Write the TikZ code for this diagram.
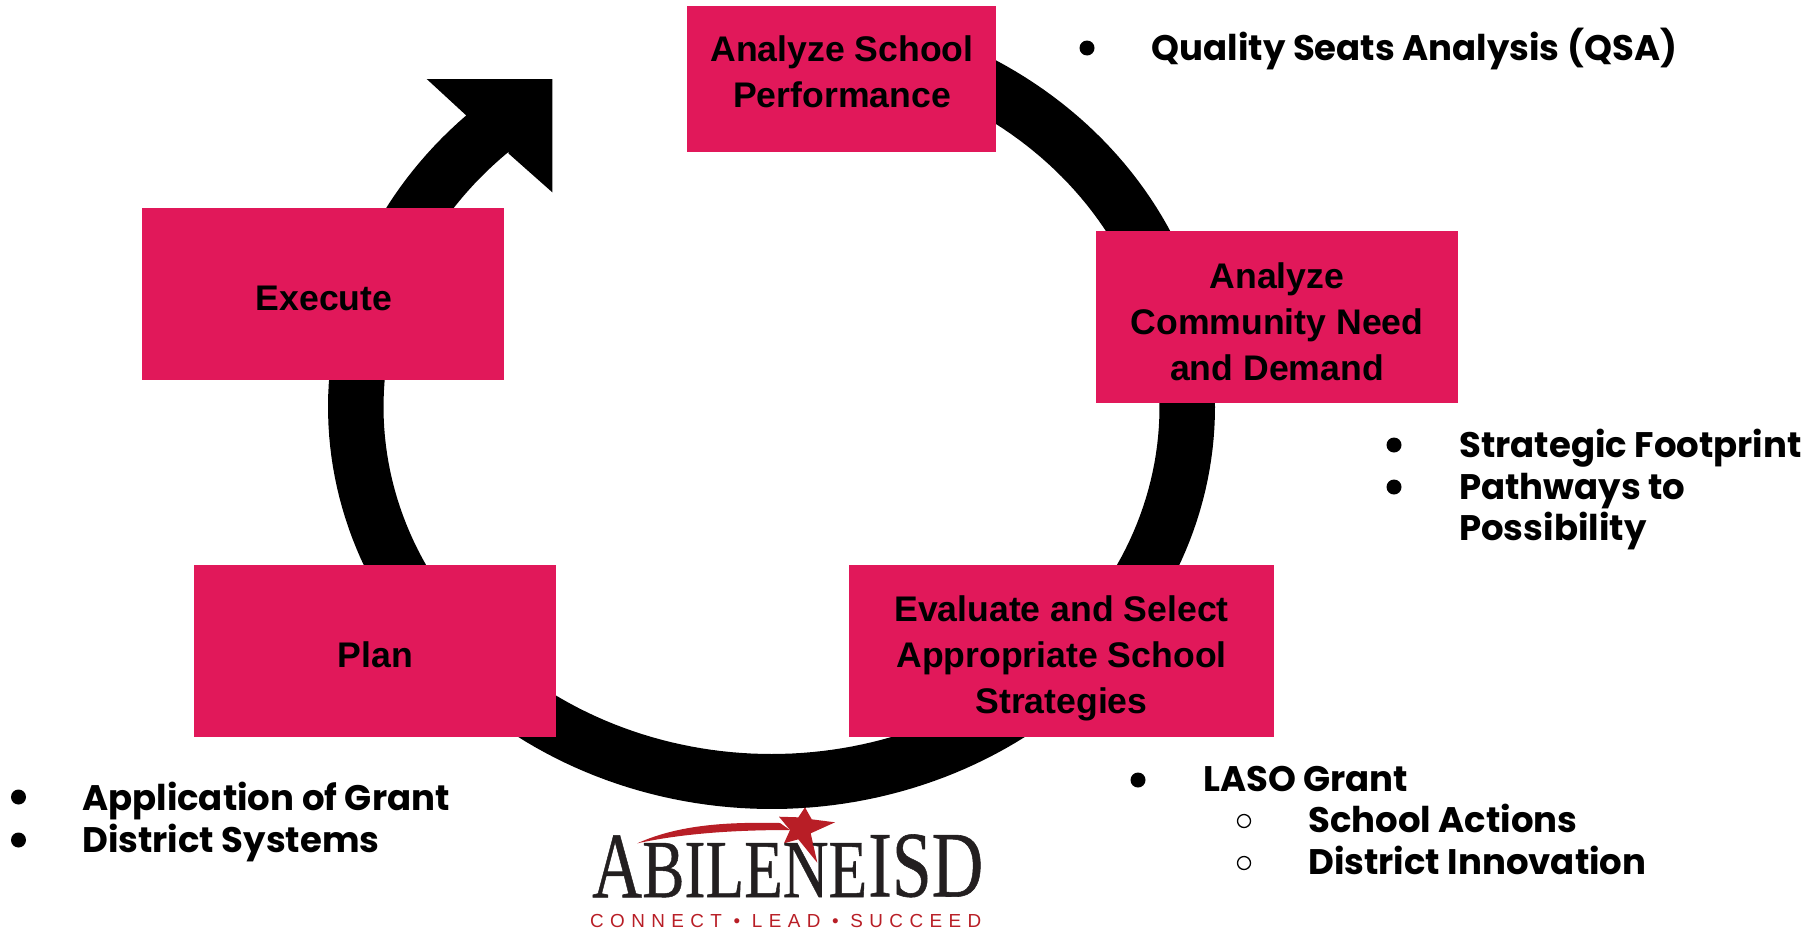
\documentclass[tikz,border=0pt]{standalone}
\usepackage{graphicx}
\usepackage{fontspec}
\setmainfont{Liberation Sans}
\newfontfamily\bulletfont{Poppins}
\newfontfamily\logofont[FakeBold=0.6]{Liberation Serif}
\newfontfamily\tagfont[LetterSpace=34]{Liberation Sans}
\definecolor{crimson}{HTML}{E1185A}
\definecolor{logored}{HTML}{B81E26}
\definecolor{logoink}{HTML}{231F20}
\tikzset{
  pinkbox/.style={fill=crimson,draw=none,inner sep=0pt,anchor=north west},
  boxtext/.style={align=center,font=\fontsize{35.6}{46}\selectfont\bfseries,text=black,inner sep=0pt},
  itemtext/.style={anchor=base west,font=\bulletfont\fontsize{35.5}{40}\selectfont\bfseries,text=black,inner sep=0pt},
  solidmark/.style={circle,fill=black,draw=none,minimum size=15pt,inner sep=0pt},
  hollowmark/.style={circle,draw=black,line width=1.3pt,fill=white,minimum size=13pt,inner sep=0pt},
  logoglyph/.style={anchor=south west,inner sep=0pt,text=logoink},
}
\begin{document}
\begin{tikzpicture}[x=1pt,y=-1pt]
\useasboundingbox (0,0) rectangle (1811,932);
% ring with arrow head
\fill[black]
  plot[domain=70:-226.5,samples=200] ({771.5+443.5*cos(\x)},{407-402*sin(\x)})
  -- (426.7,79) -- (552.3,79) -- (552.3,192.3) -- (508.3,153.3)
  -- plot[domain=-227.5:70,samples=200] ({771.5+388*cos(\x)},{407-347*sin(\x)})
  -- cycle;
% boxes
\node[pinkbox,minimum width=309pt,minimum height=146pt] (school) at (687,6) {};
\node[pinkbox,minimum width=362pt,minimum height=172pt] (execute) at (142,208) {};
\node[pinkbox,minimum width=362pt,minimum height=172pt] (community) at (1096,231) {};
\node[pinkbox,minimum width=425pt,minimum height=172pt] (evaluate) at (849,565) {};
\node[pinkbox,minimum width=362pt,minimum height=172pt] (plan) at (194,565) {};
\node[boxtext] (tschool) at (842,72) {Analyze School\\Performance};
\node[boxtext] (texecute) at (324,298) {Execute};
\node[boxtext] (tcommunity) at (1277,321.5) {Analyze\\Community Need\\and Demand};
\node[boxtext] (tevaluate) at (1061.5,658.5) {Evaluate and Select\\Appropriate School\\Strategies};
\node[boxtext] (tplan) at (375.5,655) {Plan};
% lists
\node[solidmark] (b1) at (1087,48) {};
\node[itemtext] (i1) at (1151.5,60) {Quality Seats Analysis (QSA)};
\node[solidmark] (b2) at (1394,445) {};
\node[itemtext] (i2) at (1459,457) {Strategic Footprint};
\node[solidmark] (b3) at (1394,487) {};
\node[itemtext] (i3) at (1459,499) {Pathways to};
\node[itemtext] (i4) at (1459,540) {Possibility};
\node[solidmark] (b4) at (1138,780) {};
\node[itemtext] (i5) at (1203,791) {LASO Grant};
\node[hollowmark] (c1) at (1244,821) {};
\node[itemtext] (i6) at (1308,832.5) {School Actions};
\node[hollowmark] (c2) at (1244,863) {};
\node[itemtext] (i7) at (1308,874) {District Innovation};
\node[solidmark] (b5) at (18.5,797) {};
\node[itemtext] (i8) at (82,810) {Application of Grant};
\node[solidmark] (b6) at (18.5,840) {};
\node[itemtext] (i9) at (82,852) {District Systems};
% logo
\fill[logored] (637.3,843.3) .. controls (680,824) and (730,822) .. (780,823) -- (790,830) .. controls (730,830) and (680,834) .. cycle;
\fill[logored] (805,807.3) -- (811.7,819.3) -- (835,822.3) -- (810.7,833.3) -- (817.3,862.7) -- (798.3,839.3) -- (784,843.3) -- (790,830) -- (779,816.7) -- (798.3,817.3) -- cycle;
\node[logoglyph] (la) at (592,897.5) {\resizebox{50pt}{62pt}{\logofont A}};
\node[logoglyph] (lb) at (642,897.5) {\resizebox{225pt}{54pt}{\logofont BILENE}};
\node[logoglyph] (lc) at (868,897.5) {\resizebox{115pt}{62pt}{\logofont ISD}};
\node[anchor=base west,inner sep=0pt,text=logored] (tag) at (590,927) {\resizebox{391pt}{!}{\tagfont\fontsize{20}{24}\selectfont CONNECT • LEAD • SUCCEED}};
\end{tikzpicture}
\end{document}
